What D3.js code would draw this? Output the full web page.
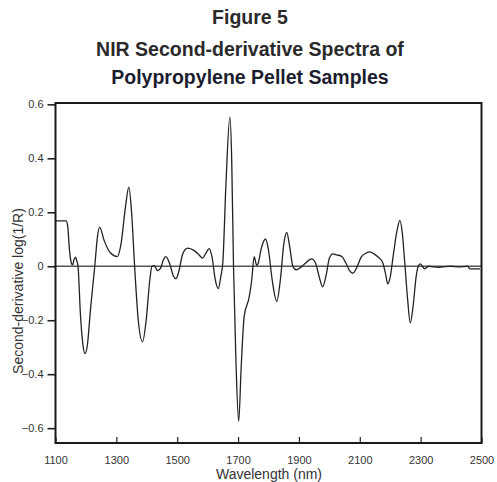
<!DOCTYPE html>
<html>
<head>
<meta charset="utf-8">
<script src="https://cdn.jsdelivr.net/npm/d3@7"></script>
<style>
  html, body { margin: 0; padding: 0; background: #fff; }
  svg { display: block; }
</style>
</head>
<body>
<svg id="chart" width="497" height="482"></svg>
<script>
// ---- Data ----
const titleLines = ["Figure 5", "NIR Second-derivative Spectra of", "Polypropylene Pellet Samples"];
const xTicks = [1100, 1300, 1500, 1700, 1900, 2100, 2300, 2500];
const yTicks = [0.6, 0.4, 0.2, 0, -0.2, -0.4, -0.6];
const xLabel = "Wavelength (nm)";
const yLabel = "Second-derivative log(1/R)";

const wavelength = [
  1100, 1135, 1140, 1146, 1152, 1156, 1161, 1166, 1170, 1174,
  1182, 1190, 1197, 1205, 1215, 1229, 1238, 1245, 1260, 1280,
  1303, 1315, 1330, 1341, 1350, 1360, 1372, 1386, 1398, 1410,
  1417, 1425, 1435, 1445, 1455, 1463, 1475, 1487, 1496, 1505,
  1518, 1534, 1556, 1572, 1583, 1595, 1605, 1615, 1625, 1635,
  1643, 1650, 1660, 1673, 1679, 1685, 1693, 1702, 1710, 1720,
  1737, 1745, 1753, 1757, 1761, 1766, 1775, 1790, 1800, 1812,
  1827, 1840, 1850, 1860, 1870, 1880, 1891, 1905, 1920, 1942,
  1955, 1968, 1978, 1990, 2000, 2011, 2025, 2041, 2055, 2066,
  2077, 2090, 2105, 2120, 2132, 2148, 2160, 2175, 2185, 2192,
  2200, 2210, 2222, 2232, 2240, 2248, 2257, 2266, 2275, 2285,
  2292, 2299, 2306, 2313, 2320, 2328, 2340, 2357, 2375, 2400,
  2425, 2455, 2462, 2480, 2495
];
const secondDeriv = [
  0.168, 0.168, 0.150, 0.060, 0.012, 0.005, 0.025, 0.034, 0.020, 0.000,
  -0.180, -0.290, -0.324, -0.290, -0.160, 0.000, 0.110, 0.145, 0.095, 0.050,
  0.036, 0.080, 0.220, 0.293, 0.200, 0.000, -0.200, -0.280, -0.200, -0.050,
  0.000, 0.002, -0.016, -0.008, 0.025, 0.036, 0.010, -0.035, -0.046, -0.020,
  0.045, 0.067, 0.058, 0.042, 0.030, 0.050, 0.065, 0.030, -0.050, -0.083,
  -0.040, 0.015, 0.300, 0.553, 0.400, 0.000, -0.350, -0.575, -0.380, -0.186,
  -0.112, -0.050, 0.036, 0.020, 0.003, 0.010, 0.060, 0.101, 0.060, -0.050,
  -0.130, -0.040, 0.080, 0.125, 0.070, 0.000, -0.013, -0.005, 0.010, 0.027,
  0.010, -0.045, -0.076, -0.030, 0.030, 0.046, 0.042, 0.036, 0.010, -0.015,
  -0.026, -0.005, 0.035, 0.048, 0.053, 0.045, 0.034, 0.015, -0.030, -0.065,
  -0.040, 0.040, 0.130, 0.170, 0.120, 0.010, -0.120, -0.210, -0.150, -0.040,
  0.000, 0.009, 0.000, -0.010, -0.004, 0.000, -0.002, -0.004, -0.002, 0.000,
  -0.002, 0.000, -0.010, -0.010, -0.010
];

// ---- Layout ----
const svg = d3.select("#chart");
const plotL = 55.5, plotR = 481.5, plotT = 103, plotB = 443;
const x = d3.scaleLinear().domain([1100, 2500]).range([plotL, plotR]);
const y = d3.scaleLinear().domain([-0.655, 0.605]).range([plotB, plotT]);
const font = "'Liberation Sans', Arial, Helvetica, sans-serif";

// Title
const titleY = [24, 56, 84];
const titleColors = ["#2a2a2a", "#2a2a2a", "#1d1d30"];
titleLines.forEach((t, i) => {
  svg.append("text")
    .attr("x", 250).attr("y", titleY[i])
    .attr("text-anchor", "middle")
    .attr("font-family", font)
    .attr("font-weight", "bold")
    .attr("font-size", "19.5px")
    .attr("fill", titleColors[i])
    .text(t);
});

// Zero line
svg.append("line")
  .attr("x1", plotL).attr("x2", plotR)
  .attr("y1", y(0)).attr("y2", y(0))
  .attr("stroke", "#555").attr("stroke-width", 1.4);

// Curve
const pts = wavelength.map((w, i) => [w, secondDeriv[i]]);
const line = d3.line()
  .x(d => x(d[0])).y(d => y(d[1]))
  .curve(d3.curveMonotoneX);
svg.append("path")
  .datum(pts)
  .attr("d", line)
  .attr("fill", "none")
  .attr("stroke", "#222")
  .attr("stroke-width", 1.3);

// Y axis (ticks outward, left)
const yAxis = d3.axisLeft(y)
  .tickValues(yTicks)
  .tickSize(8)
  .tickPadding(4)
  .tickFormat(d => d === 0 ? "0" : d3.format(".1f")(d));
const gy = svg.append("g").attr("transform", `translate(${plotL},0)`).call(yAxis);
gy.select(".domain").remove();
gy.selectAll(".tick line").attr("stroke", "#222").attr("stroke-width", 1.6);
gy.selectAll(".tick text")
  .attr("font-family", font).attr("font-size", "11px").attr("fill", "#333");

// X axis (ticks inward)
const xAxis = d3.axisBottom(x)
  .tickValues(xTicks)
  .tickSize(-6)
  .tickPadding(13)
  .tickFormat(d3.format("d"));
const gx = svg.append("g").attr("transform", `translate(0,${plotB})`).call(xAxis);
gx.select(".domain").remove();
gx.selectAll(".tick line").attr("stroke", "#222").attr("stroke-width", 1.2);
gx.selectAll(".tick text")
  .attr("font-family", font).attr("font-size", "11px").attr("fill", "#333");

// Frame
svg.append("rect")
  .attr("x", plotL).attr("y", plotT)
  .attr("width", plotR - plotL).attr("height", plotB - plotT)
  .attr("fill", "none").attr("stroke", "#1a1a1a").attr("stroke-width", 2);

// Axis labels
svg.append("text")
  .attr("x", 269).attr("y", 479)
  .attr("text-anchor", "middle")
  .attr("font-family", font).attr("font-size", "14px").attr("fill", "#333")
  .text(xLabel);

svg.append("text")
  .attr("transform", "translate(23,291) rotate(-90)")
  .attr("text-anchor", "middle")
  .attr("font-family", font).attr("font-size", "14px").attr("fill", "#333")
  .text(yLabel);
</script>
</body>
</html>
